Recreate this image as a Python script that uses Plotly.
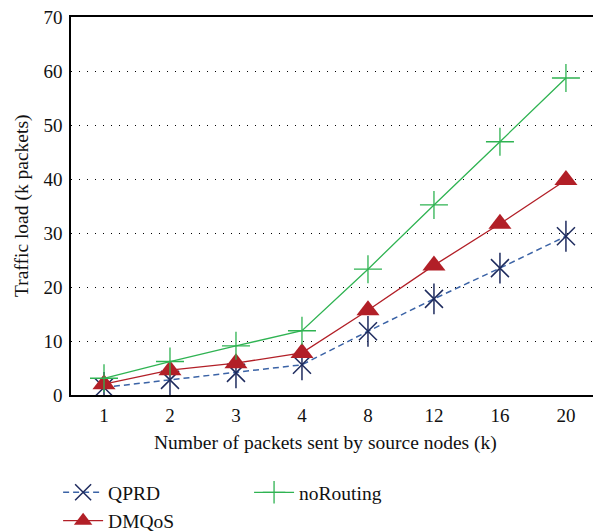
import plotly.graph_objects as go

categories = ["1", "2", "3", "4", "8", "12", "16", "20"]
qprd = [1.4, 2.8, 4.1, 5.6, 11.8, 17.8, 23.5, 29.4]
dmqos = [2.0, 4.6, 5.9, 7.8, 15.7, 24.0, 31.7, 39.8]
norouting = [3.1, 6.2, 9.1, 11.9, 23.3, 35.2, 46.9, 58.7]
y_ticks = [0, 10, 20, 30, 40, 50, 60, 70]

FONT = "Liberation Serif"
NAVY = "#1e2b5e"
BLUE_LINE = "#3b63a6"
RED = "#b21f27"
GREEN = "#2fb352"

fig = go.Figure()

fig.add_trace(go.Scatter(
    x=categories, y=qprd, name="QPRD", mode="lines+markers",
    line=dict(color=BLUE_LINE, width=1.5, dash="6px,4px"),
    marker=dict(symbol="x-thin", size=18, color=NAVY, line=dict(color=NAVY, width=1.5)),
    legend="legend",
))
fig.add_trace(go.Scatter(
    x=categories, y=qprd, mode="markers", showlegend=False, hoverinfo="skip",
    marker=dict(symbol="line-ns", size=22, color=NAVY, line=dict(color=NAVY, width=1.5)),
))
fig.add_trace(go.Scatter(
    x=categories, y=dmqos, name="DMQoS", mode="lines+markers",
    line=dict(color=RED, width=1.3),
    marker=dict(symbol="triangle-up", size=20, color=RED),
    legend="legend",
))
fig.add_trace(go.Scatter(
    x=categories, y=norouting, name="noRouting", mode="lines+markers",
    line=dict(color=GREEN, width=1.3),
    marker=dict(symbol="cross-thin", size=20, color=GREEN, line=dict(color=GREEN, width=1.3)),
    legend="legend2",
))

fig.update_layout(
    width=593, height=531,
    margin=dict(l=71, r=0, t=17, b=136, autoexpand=False),
    paper_bgcolor="white", plot_bgcolor="white",
    font=dict(family=FONT, size=19, color="#111"),
    xaxis=dict(
        type="category", range=[-0.5, 7.41],
        showline=True, linecolor="black", linewidth=1.5, mirror=True,
        showgrid=False, ticks="", ticklabelstandoff=2,
        tickfont=dict(family=FONT, size=19),
    ),
    yaxis=dict(
        range=[0, 70], tickvals=y_ticks,
        showline=True, linecolor="black", linewidth=1.5,
        showgrid=True, gridcolor="black", gridwidth=1, griddash="1px,7px",
        zeroline=False, ticks="", ticklabelstandoff=3,
        tickfont=dict(family=FONT, size=19),
    ),
    annotations=[
        dict(text="Number of packets sent by source nodes (k)", xref="paper", yref="paper",
             x=(325 - 71) / 522, y=-(443 - 395) / 378, xanchor="center", yanchor="middle",
             showarrow=False, font=dict(family=FONT, size=19.5)),
        dict(text="Traffic load (k packets)", xref="paper", yref="paper",
             x=-(71 - 22) / 522, y=0.5, xanchor="center", yanchor="middle", textangle=-90,
             showarrow=False, font=dict(family=FONT, size=19.5)),
    ],
    legend=dict(
        x=0.098, y=0.109, xref="container", yref="container", xanchor="left", yanchor="top",
        orientation="v", font=dict(family=FONT, size=19.5), bgcolor="rgba(0,0,0,0)",
        tracegroupgap=0, itemwidth=40,
    ),
    legend2=dict(
        x=0.42, y=0.109, xref="container", yref="container", xanchor="left", yanchor="top",
        orientation="v", font=dict(family=FONT, size=19.5), bgcolor="rgba(0,0,0,0)",
        itemwidth=40,
    ),
)

fig.write_html("out.html")
